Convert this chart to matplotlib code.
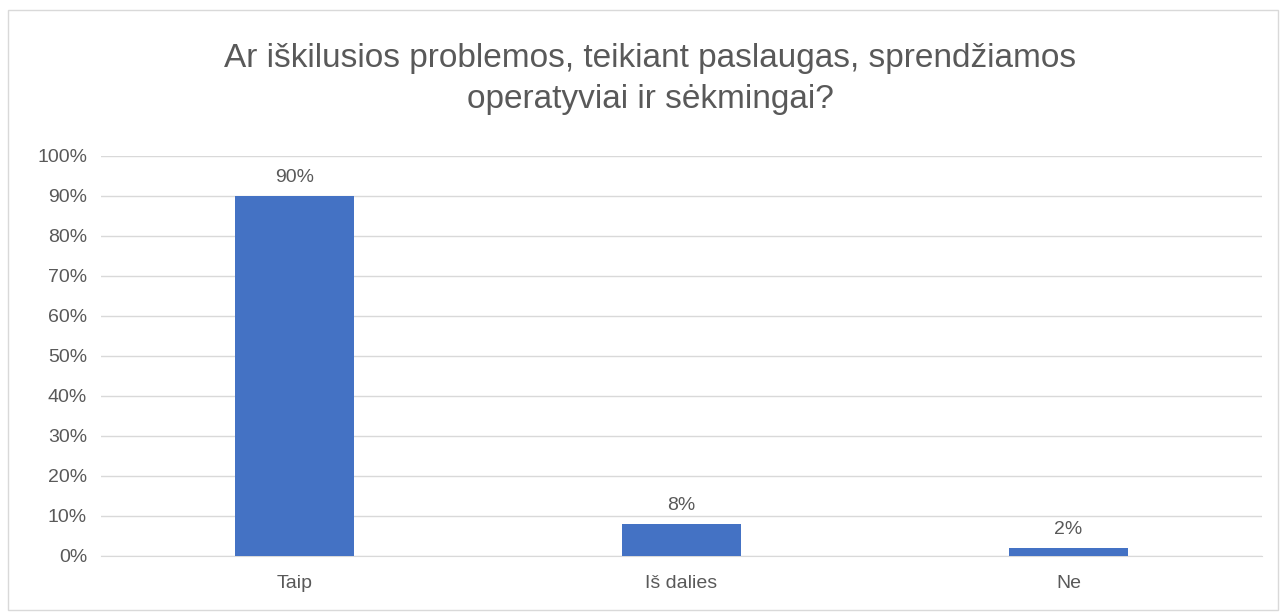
import matplotlib.pyplot as plt
from matplotlib.patches import Rectangle

categories = ["Taip", "Iš dalies", "Ne"]
values = [90, 8, 2]
yticks = list(range(0, 101, 10))
title = "Ar iškilusios problemos, teikiant paslaugas, sprendžiamos\noperatyviai ir sėkmingai?"

text_color = "#595959"
bar_color = "#4472C4"
grid_color = "#D9D9D9"

plt.rcParams["font.family"] = ["Liberation Sans", "DejaVu Sans"]

fig = plt.figure(figsize=(12.82, 6.12), dpi=100)
ax = fig.add_axes([101 / 1282, 1 - 556 / 612, (1262 - 101) / 1282, 400 / 612])

x = range(len(categories))
bars = ax.bar(x, values, width=0.31, color=bar_color, zorder=3)

for b, v in zip(bars, values):
    ax.annotate(f"{v}%", (b.get_x() + b.get_width() / 2, v),
                xytext=(0, 7), textcoords="offset points",
                ha="center", va="bottom", fontsize=14, color=text_color)

ax.set_xlim(-0.5, len(categories) - 0.5)
ax.set_ylim(0, 100)
ax.set_yticks(yticks)
ax.set_yticklabels([f"{t}%" for t in yticks], fontsize=14, color=text_color)
ax.set_xticks(list(x))
ax.set_xticklabels(categories, fontsize=14, color=text_color)
ax.tick_params(length=0)
ax.tick_params(axis="x", pad=14)
ax.tick_params(axis="y", pad=10)

ax.yaxis.grid(True, color=grid_color, linewidth=1, zorder=0)
for s in ["top", "right", "left"]:
    ax.spines[s].set_visible(False)
ax.spines["bottom"].set_color(grid_color)

fig.text(650 / 1282, 1 - 79 / 612, title, ha="center", va="center",
         fontsize=24, color=text_color, linespacing=1.45)

fig.patches.append(Rectangle((8 / 1282, 2 / 612), 1270 / 1282, 600 / 612,
                             transform=fig.transFigure, fill=False,
                             edgecolor=grid_color, linewidth=1))

fig.savefig("out.png", dpi=100)
